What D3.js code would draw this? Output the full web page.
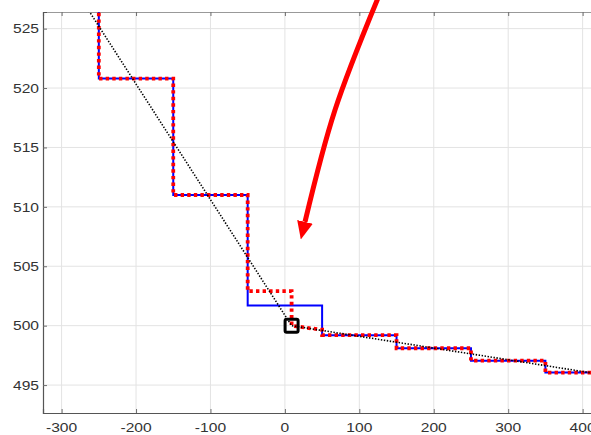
<!DOCTYPE html>
<html><head><meta charset="utf-8">
<script src="https://cdn.jsdelivr.net/npm/d3@7"></script>
<style>body{margin:0;background:#fff}svg{display:block}</style>
</head><body>
<script>
// ---- data ----
const xTicks = [-300,-200,-100,0,100,200,300,400];
const yTicks = [495,500,505,510,515,520,525];
const blueX = [-250,-250,-150,-150,-50,-50,50,50,150,150,250,250,350,350,440];
const blueY = [528,520.8,520.8,511,511,501.7,501.7,499.2,499.2,498.1,498.1,497.05,497.05,496.05,496.05];
const redX  = [-250,-250,-150,-150,-50,-50,9,9,48.5,50,50,150,150,250,250,350,350,440];
const redY  = [528,520.8,520.8,511,511,502.9,502.9,500,499.66,499.66,499.2,499.2,498.1,498.1,497.05,497.05,496.05,496.05];
const blackX = [-270,9,440];
const blackY = [527.15,500,495.75];
const markX = [9];
const markY = [500];
const arrowX = [125.1,67.3,27.0];
const arrowY = [527.58,518.15,508.73];

(function(){
const W=591,H=435;
const L=43,T=12,B=413;
const x = d3.scaleLinear().domain([-325,440]).range([L, L+765*0.7443]);
const y = d3.scaleLinear().domain([492.65,526.4]).range([B,T]);
const R = x.range()[1];

const svg = d3.select("body").append("svg").attr("width",W).attr("height",H);
const defs = svg.append("defs");
defs.append("clipPath").attr("id","clip")
  .append("rect").attr("x",L).attr("y",T).attr("width",R-L).attr("height",B-T);
const m = defs.append("marker").attr("id","ah")
  .attr("viewBox","0 0 18 16").attr("refX",0).attr("refY",8)
  .attr("markerWidth",18).attr("markerHeight",16).attr("markerUnits","userSpaceOnUse")
  .attr("orient","auto");
m.append("path").attr("d","M0,0L18,8L0,16Z").attr("fill","#ff0000");

// grid
const g = svg.append("g");
g.selectAll(".gx").data(xTicks).join("line")
  .attr("x1",d=>x(d)).attr("x2",d=>x(d)).attr("y1",T).attr("y2",B)
  .attr("stroke","#e3e3e3").attr("stroke-width",1);
g.selectAll(".gy").data(yTicks).join("line")
  .attr("y1",d=>y(d)).attr("y2",d=>y(d)).attr("x1",L).attr("x2",R)
  .attr("stroke","#e3e3e3").attr("stroke-width",1);

// axes (ticks inward)
const axC="#6e6e6e";
const ax = svg.append("g");
const axB = ax.append("g").attr("transform",`translate(0,${B})`).call(d3.axisBottom(x).tickValues(xTicks).tickSize(-4).tickFormat(""));
const axT = ax.append("g").attr("transform",`translate(0,${T})`).call(d3.axisTop(x).tickValues(xTicks).tickSize(-4).tickFormat(""));
const axL = ax.append("g").attr("transform",`translate(${L},0)`).call(d3.axisLeft(y).tickValues(yTicks).tickSize(-4).tickFormat(""));
[axB,axT,axL].forEach(a=>{
  a.select(".domain").attr("stroke",axC).attr("stroke-width",1.2);
  a.selectAll(".tick line").attr("stroke",axC).attr("stroke-width",1);
});
axB.select(".domain").attr("stroke","#555");
axL.select(".domain").attr("stroke","#555");
axT.select(".domain").attr("stroke","#999");

// labels
const lab = svg.append("g").attr("font-family","Liberation Sans, Arial, sans-serif").attr("font-size",13).attr("fill","#333");
lab.selectAll(".xl").data(xTicks).join("text")
  .attr("transform",d=>`translate(${x(d)},432) scale(1.2,1)`).attr("text-anchor","middle").text(d=>d);
lab.selectAll(".yl").data(yTicks).join("text")
  .attr("transform",d=>`translate(39,${y(d)+4.7}) scale(1.2,1)`).attr("text-anchor","end").text(d=>d);

// lines
const line = d3.line().x(d=>x(d[0])).y(d=>y(d[1]));
const plot = svg.append("g").attr("clip-path","url(#clip)");
plot.append("path").datum(d3.zip(blueX,blueY)).attr("d",line)
  .attr("fill","none").attr("stroke","#0000ff").attr("stroke-width",2);
plot.append("path").datum(d3.zip(redX,redY)).attr("d",line)
  .attr("fill","none").attr("stroke","#ff0000").attr("stroke-width",3.8).attr("stroke-dasharray","3.4,3.2");
plot.append("path").datum(d3.zip(blackX,blackY)).attr("d",line)
  .attr("fill","none").attr("stroke","#000").attr("stroke-width",1.6).attr("stroke-dasharray","1.4,1.6");
plot.selectAll(".mk").data(d3.zip(markX,markY)).join("rect")
  .attr("x",d=>x(d[0])-6.5).attr("y",d=>y(d[1])-6.5).attr("width",13).attr("height",13)
  .attr("rx",1.5).attr("fill","none").attr("stroke","#000").attr("stroke-width",3);

// annotation arrow
svg.append("path").datum(d3.zip(arrowX,arrowY))
  .attr("d",d3.line().x(d=>x(d[0])).y(d=>y(d[1])).curve(d3.curveNatural))
  .attr("fill","none").attr("stroke","#ff0000").attr("stroke-width",5).attr("marker-end","url(#ah)");
})();
</script>
</body></html>
